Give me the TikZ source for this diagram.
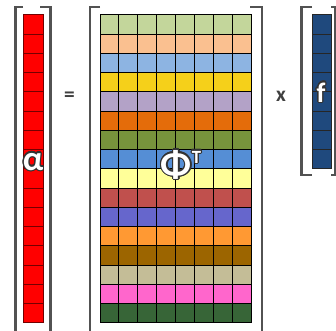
\documentclass[tikz,border=0pt]{standalone}
\usepackage{fontspec}
\setmainfont{Carlito}
\usepackage{contour}
\usetikzlibrary{positioning}
\contourlength{0.9pt}
\definecolor{navy}{HTML}{1F497D}
\definecolor{ink}{HTML}{404040}
\tikzset{bracket/.style={draw=black!68,line width=1.6pt},
  cellgrid/.style={line width=0.6pt},
  glyph/.style={font=\fontsize{#1}{#1}\selectfont\bfseries,text=white,inner sep=0pt,anchor=base}}

\begin{document}
\begin{tikzpicture}[x=0.75pt,y=-0.75pt]
\useasboundingbox (0,0) rectangle (336,330);
\clip (0,0) rectangle (336,330);
% alpha column
\foreach \r in {0,...,15}
  \filldraw[fill=red,draw=red!45!black,cellgrid] (23,{14.7+19.25*\r}) rectangle ++(20,19.25);
% Phi^T, one colour per row
\foreach \hex [count=\r from 0] in {C3D69B,FAC090,8DB4E2,F5D01A,B3A2C7,E46C0A,77933C,558ED5,FFFF99,C0504D,6666CC,FF9933,9C6500,C4BD97,FF66CC,376537} {
  \definecolor{rowfill}{HTML}{\hex}
  \foreach \c in {0,...,7}
    \filldraw[fill=rowfill,cellgrid] ({100+18.875*\c},{14.7+19.25*\r}) rectangle ++(18.875,19.25);
}
% f column
\foreach \r in {0,...,7}
  \filldraw[fill=navy,draw=black!85,cellgrid] (312,{14.7+19.25*\r}) rectangle ++(19,19.25);
% brackets
\draw[bracket] (23,7) -| (15.5,332);
\draw[bracket] (40,7) -| (50.5,332);
\draw[bracket] (100,7) -| (90,332);
\draw[bracket] (250,7) -| (262,332);
\draw[bracket] (312,7) -| (301.5,175) -- (312,175);
\draw[bracket] (331,7) -| (335,175) -- (331,175);
% labels
\node[glyph=26pt] (alpha) at (33,170) {\contour{black!80}{α}};
\node[glyph=29pt] (phiT) at (181,177) {\contour{black!80}{Φ\raisebox{10.5pt}{\fontsize{14pt}{14pt}\selectfont T}}};
\node[glyph=21pt] (f) at (321,102) {\contour{black!80}{f}};
\node[font=\fontsize{16pt}{16pt}\selectfont\bfseries,text=ink,inner sep=0pt,anchor=base] (eq) at (69.5,101) {=};
\node[font=\fontsize{16pt}{16pt}\selectfont\bfseries,text=ink,inner sep=0pt,anchor=base] (times) at (281,101) {x};
\end{tikzpicture}
\end{document}
